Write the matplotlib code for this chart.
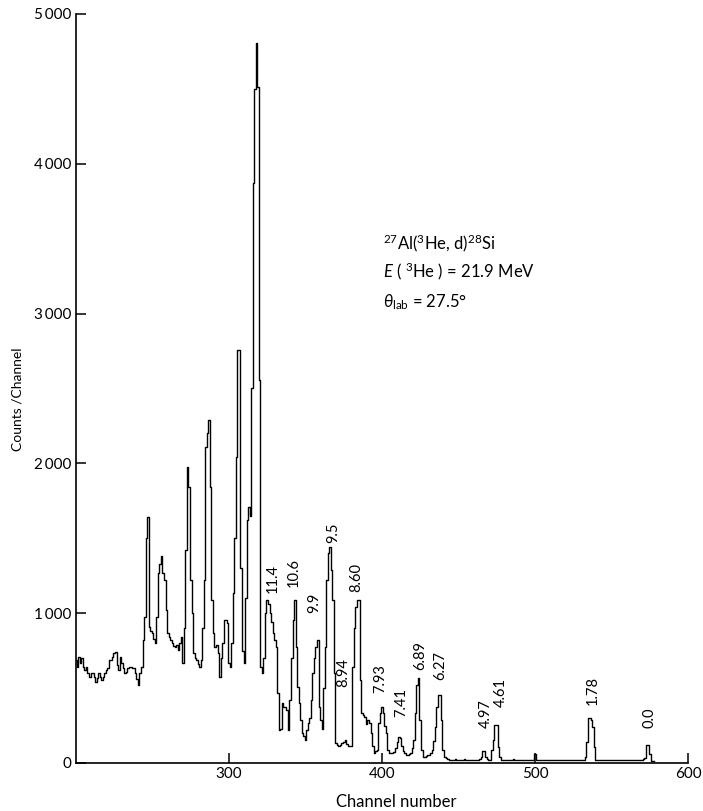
import numpy as np
import matplotlib
matplotlib.use("Agg")
import matplotlib.pyplot as plt

# --- Spectrum data: counts per channel, starting at channel 200 ---
FIRST_CHANNEL = 200
counts = [
    688, 643, 710, 665, 699, 643, 621, 643, 598, 576,      # 200
    598, 598, 576, 542, 565, 598, 576, 554, 576, 598,      # 210
    621, 632, 688, 688, 710, 732, 744, 654, 621, 710,      # 220
    665, 632, 598, 610, 632, 643, 643, 632, 632, 598,      # 230
    560, 520, 598, 643, 821, 977, 1500, 1640, 910, 880,    # 240
    866, 830, 799, 977, 1266, 1330, 1382, 1266, 1222, 1021,  # 250
    866, 840, 820, 801, 780, 774, 790, 754, 800, 841,      # 260
    667, 900, 1422, 1976, 1842, 1222, 1001, 734, 700, 688,  # 270
    660, 641, 688, 900, 1222, 2110, 2200, 2290, 1842, 1088,  # 280
    868, 774, 790, 734, 574, 700, 800, 955, 955, 935,      # 290
    667, 641, 800, 1135, 1500, 2043, 2757, 2757, 1300, 750,  # 300
    667, 1100, 1622, 1709, 1650, 2500, 3870, 4500, 4806, 4513,  # 310
    2557, 640, 600, 700, 1001, 1088, 1060, 1001, 940, 868,  # 320
    820, 774, 467, 220, 227, 400, 374, 374, 354, 220,      # 330
    420, 700, 955, 1088, 774, 507, 400, 287, 200, 180,     # 340
    154, 220, 267, 300, 420, 601, 700, 774, 821, 374,      # 350
    287, 227, 500, 774, 1222, 1400, 1442, 1288, 1088, 601,  # 360
    134, 120, 111, 120, 134, 140, 154, 130, 111, 111,      # 370
    111, 641, 900, 1041, 1088, 1088, 554, 334, 320, 307,   # 380
    260, 287, 267, 200, 111, 67, 80, 87, 267, 334,         # 390
    374, 334, 250, 200, 87, 70, 67, 70, 73, 100,           # 400
    140, 174, 170, 111, 80, 67, 55, 53, 60, 67,            # 410
    100, 154, 334, 520, 567, 287, 87, 40, 40, 45,          # 420
    53, 53, 70, 87, 150, 240, 374, 454, 454, 287,          # 430
    87, 40, 33, 25, 20, 22, 18, 20, 25, 20,                # 440
    18, 20, 22, 20, 25, 20, 18, 20, 22, 20,                # 450
    20, 18, 22, 20, 25, 40, 80, 80, 40, 25,                # 460
    20, 20, 87, 154, 254, 254, 107, 40, 20, 18,            # 470
    20, 22, 20, 18, 20, 20, 25, 20, 18, 20,                # 480
    22, 20, 18, 20, 20, 22, 20, 18, 20, 20,                # 490
    60, 20, 18, 20, 22, 20, 20, 18, 20, 22,                # 500
    20, 18, 20, 20, 22, 20, 18, 20, 20, 22,                # 510
    20, 18, 20, 22, 20, 20, 18, 20, 22, 20,                # 520
    18, 20, 22, 40, 140, 300, 300, 290, 240, 107,          # 530
    20, 18, 20, 22, 20, 18, 20, 20, 22, 20,                # 540
    18, 20, 20, 22, 20, 18, 20, 22, 20, 18,                # 550
    20, 20, 22, 20, 18, 20, 22, 20, 20, 18,                # 560
    20, 25, 30, 120, 120, 60, 15, 10, 10,                  # 570
]
channels = np.arange(FIRST_CHANNEL, FIRST_CHANNEL + len(counts))

# excitation energies (MeV) of the 28Si levels, with where each label sits
level_labels = ["11.4", "10.6", "9.9", "9.5", "8.60", "8.94", "7.93", "7.41",
                "6.89", "6.27", "4.97", "4.61", "1.78", "0.0"]
label_channel = [328.3, 342.1, 355.8, 368.2, 383.3, 374.8, 399.0, 412.8,
                 425.2, 438.3, 467.8, 477.6, 537.8, 574.5]
label_bottom = [1135, 1175, 1001, 1469, 1141, 507, 467, 307,
                621, 554, 234, 374, 387, 234]

y_ticks = [0, 1000, 2000, 3000, 4000, 5000]
y_tick_labels = ["0", "1\u2009000", "2\u2009000", "3\u2009000", "4\u2009000", "5\u2009000"]
x_ticks = [300, 400, 500, 600]

# --- Style ---
FONT = ["Lato", "DejaVu Sans"]
plt.rcParams["font.family"] = FONT
plt.rcParams["text.color"] = "black"
plt.rcParams["xtick.color"] = "black"
plt.rcParams["ytick.color"] = "black"
plt.rcParams["mathtext.fontset"] = "custom"
plt.rcParams["mathtext.rm"] = "Lato"
plt.rcParams["mathtext.it"] = "Lato:italic"

fig = plt.figure(figsize=(7.03, 8.11), dpi=100)
ax = fig.add_axes([0.1081, 0.0592, 0.8706, 0.9236])

ax.plot(channels, counts, drawstyle="steps-mid", color="black", lw=1.0)

ax.set_xlim(200, 600)
ax.set_ylim(0, 5000)
ax.spines["top"].set_visible(False)
ax.spines["right"].set_visible(False)
for s in ("left", "bottom"):
    ax.spines[s].set_linewidth(1.2)

ax.set_xticks(x_ticks)
ax.set_xticklabels([str(t) for t in x_ticks])
ax.set_yticks(y_ticks)
ax.set_yticklabels(y_tick_labels)
ax.tick_params(direction="in", length=7, width=1.1, labelsize=11, pad=3)

ax.set_xlabel("Channel number", fontsize=12)
ax.xaxis.set_label_coords(0.524, -0.042)
# narrow face for the vertical axis title
ax.set_ylabel("Counts /Channel", fontsize=10,
              family=["Liberation Sans Narrow", "Lato"])
ax.yaxis.set_label_coords(-0.085, 0.485)

# peak labels, written vertically above each level
for txt, ch, yb in zip(level_labels, label_channel, label_bottom):
    ax.text(ch, yb, txt, rotation=90, ha="center", va="bottom", fontsize=10.5)

# reaction details
ax.text(0.502, 0.686, r"$^{27}$Al($^{3}$He, d)$^{28}$Si", transform=ax.transAxes,
        fontsize=12, va="baseline")
ax.text(0.502, 0.648, r"$E$ ( $^{3}$He ) = 21.9 MeV", transform=ax.transAxes,
        fontsize=12, va="baseline")
ax.text(0.502, 0.609, r"$\theta_{\rm lab}$ = 27.5°", transform=ax.transAxes,
        fontsize=12, va="baseline")

fig.savefig("out.png", dpi=100)
